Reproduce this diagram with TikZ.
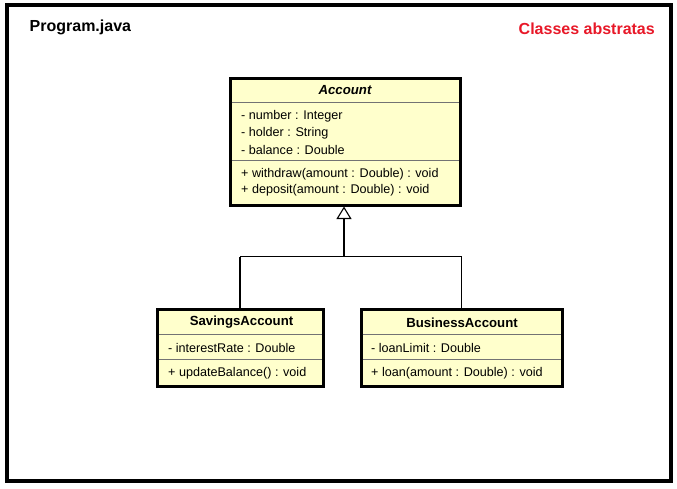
\documentclass[tikz,border=0pt]{standalone}
\usepackage{fontspec}
\setmainfont{Liberation Sans}
\usetikzlibrary{arrows.meta}
\definecolor{umlfill}{RGB}{255,255,204}
\definecolor{titlered}{RGB}{232,24,40}
\tikzset{
  classbox/.style={draw=black, line width=3pt, fill=umlfill, rectangle, outer sep=0pt, inner sep=0pt, anchor=north west},
  sepline/.style={draw=black!55, line width=0.9pt},
  member/.style={anchor=west, inner sep=0pt, font=\fontsize{12.6}{14}\selectfont},
  cname/.style={inner sep=0pt, font=\fontsize{13.2}{15}\selectfont\bfseries},
  heading/.style={anchor=west, inner sep=0pt, font=\fontsize{16}{18}\selectfont\bfseries},
  assoc/.style={draw=black, line width=1.1pt},
}
\begin{document}
\begin{tikzpicture}[x=1pt,y=-1pt]
\useasboundingbox (0,0) rectangle (677,488);
\fill[white] (0,0) rectangle (677,488);
\draw[line width=4pt] (7,5) rectangle (671,481);

\node[heading] (prog) at (29.5,27.5) {Program.java};
\node[heading, anchor=east, text=titlered] (topic) at (655,28.5) {Classes abstratas};

% Account
\node[classbox, minimum width=230pt, minimum height=127pt] (acc) at (230,78) {};
\draw[sepline] (231.5,102) -- (458.5,102);
\draw[sepline] (231.5,160) -- (458.5,160);
\node[cname, font=\fontsize{13.2}{15}\selectfont\bfseries\itshape] (accname) at (345,90.5) {Account};
\node[member] (a1) at (241,116.5) {- number : Integer};
\node[member] (a2) at (241,133) {- holder : String};
\node[member] (a3) at (241,149.5) {- balance : Double};
\node[member] (o1) at (241,174.5) {+ withdraw(amount : Double) : void};
\node[member] (o2) at (241,190.5) {+ deposit(amount : Double) : void};

% SavingsAccount
\node[classbox, minimum width=166pt, minimum height=77pt] (sav) at (157,309) {};
\draw[sepline] (158.5,334.5) -- (321.5,334.5);
\draw[sepline] (158.5,359) -- (321.5,359);
\node[cname] (savname) at (241.5,322.5) {SavingsAccount};
\node[member] (s1) at (168,348) {- interestRate : Double};
\node[member] (s2) at (168,373.5) {+ updateBalance() : void};

% BusinessAccount
\node[classbox, minimum width=201pt, minimum height=77pt] (bus) at (361,309) {};
\draw[sepline] (362.5,334.5) -- (560.5,334.5);
\draw[sepline] (362.5,359) -- (560.5,359);
\node[cname] (busname) at (462,322.5) {BusinessAccount};
\node[member] (b1) at (371,348) {- loanLimit : Double};
\node[member] (b2) at (371,373.5) {+ loan(amount : Double) : void};

% Generalization
\coordinate (j) at (344,256.7);
\coordinate (jl) at (240,256.7);
\coordinate (jr) at (461.5,256.7);
\draw[assoc] (jl) -- (jr);
\draw[assoc] (jl) -- (jl |- sav.north);
\draw[assoc] (jr) -- (jr |- bus.north);
\draw[assoc, -{Triangle[open, length=12.5pt, width=15pt, line width=1.1pt]}, shorten >=1.5pt] (j) -- (j |- acc.south);
\end{tikzpicture}
\end{document}
